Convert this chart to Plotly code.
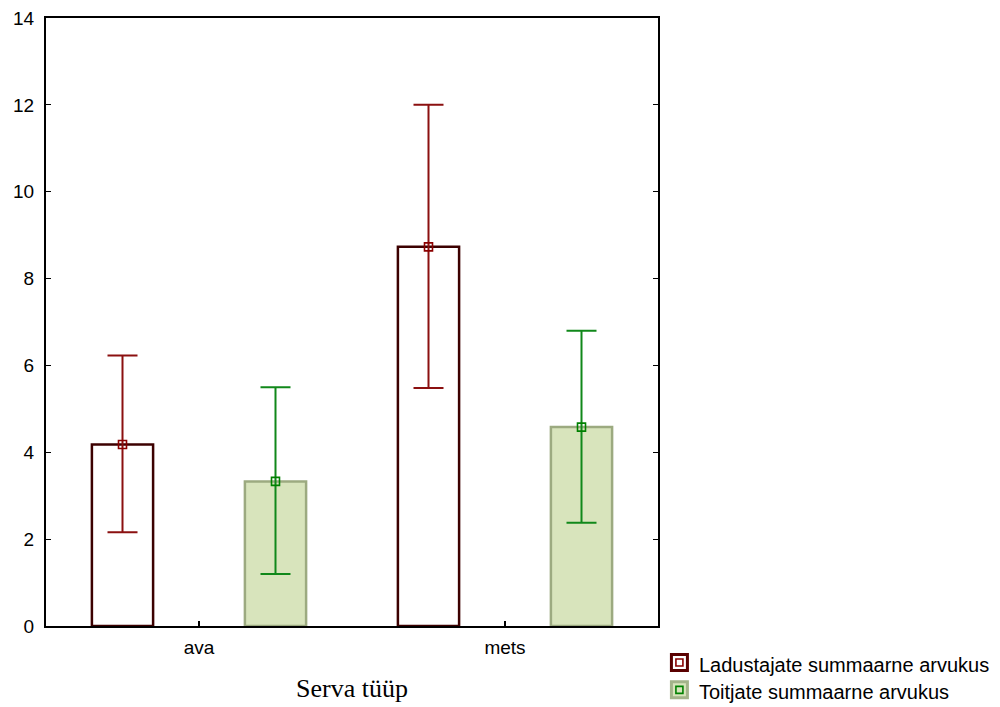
import plotly.graph_objects as go

# Site types and summary statistics per group
categories = ["ava", "mets"]
series_names = ["Ladustajate summaarne arvukus", "Toitjate summaarne arvukus"]
ladustajad_mean = [4.18, 8.73]
ladustajad_upper = [6.23, 12.0]
ladustajad_lower = [2.16, 5.48]
toitjad_mean = [3.33, 4.58]
toitjad_upper = [5.50, 6.80]
toitjad_lower = [1.20, 2.38]

y_ticks = [0, 2, 4, 6, 8, 10, 12, 14]

idx = list(range(len(categories)))
offset = 0.25
bar_width = 0.2

series = [
    dict(name=series_names[0], mean=ladustajad_mean, up=ladustajad_upper, lo=ladustajad_lower,
         shift=-offset, fill="#ffffff", edge="#3c0000", err="#8b1010", mk="#8b0000",
         key_edge="#5a0000"),
    dict(name=series_names[1], mean=toitjad_mean, up=toitjad_upper, lo=toitjad_lower,
         shift=offset, fill="#d8e4bc", edge="#9caa80", err="#10881a", mk="#008000",
         key_edge="#a3b38a"),
]

fig = go.Figure()
for s in series:
    xs = [i + s["shift"] for i in idx]
    fig.add_trace(go.Bar(
        x=xs, y=s["mean"], width=bar_width, name=s["name"],
        marker=dict(color=s["fill"], line=dict(color=s["edge"], width=2.5)),
        showlegend=False,
    ))
    fig.add_trace(go.Scatter(
        x=xs, y=s["mean"], mode="markers", showlegend=False, name=s["name"],
        marker=dict(symbol="square-open", size=8, color=s["mk"], line=dict(width=1.6, color=s["mk"])),
        error_y=dict(type="data", symmetric=False,
                     array=[u - m for u, m in zip(s["up"], s["mean"])],
                     arrayminus=[m - l for m, l in zip(s["mean"], s["lo"])],
                     color=s["err"], thickness=2, width=15),
    ))

# Legend key drawn below the right edge of the plot: outer box + inner marker square
key_x = 1.035            # paper x of key centres
key_y = [-0.06, -0.105]  # paper y of each row
for s, ky in zip(series, key_y):
    fig.add_shape(type="rect", xref="paper", yref="paper",
                  xsizemode="pixel", ysizemode="pixel", xanchor=key_x, yanchor=ky,
                  x0=-8, x1=8, y0=-8, y1=8,
                  line=dict(color=s["key_edge"], width=3), fillcolor=s["fill"])
    fig.add_shape(type="rect", xref="paper", yref="paper",
                  xsizemode="pixel", ysizemode="pixel", xanchor=key_x, yanchor=ky,
                  x0=-3.5, x1=3.5, y0=-3.5, y1=3.5,
                  line=dict(color=s["mk"], width=1.6), fillcolor="rgba(0,0,0,0)")
    fig.add_annotation(xref="paper", yref="paper", x=key_x + 0.028, y=ky - 0.004,
                       xanchor="left", yanchor="middle", showarrow=False, text=s["name"],
                       font=dict(family="Liberation Sans, Arial, sans-serif", size=20, color="black"))

fig.update_layout(
    width=1000, height=707,
    margin=dict(l=46, r=342, t=18, b=81, autoexpand=False),
    plot_bgcolor="white", paper_bgcolor="white",
    font=dict(family="Liberation Sans, Arial, sans-serif", size=19, color="black"),
    showlegend=False,
    xaxis=dict(
        range=[-0.5, 1.5], tickvals=idx, ticktext=categories,
        showgrid=False, zeroline=False, automargin=False,
        showline=True, linecolor="black", linewidth=2, mirror=True,
        ticks="inside", ticklen=5, tickcolor="black", tickwidth=2,
        ticklabelstandoff=3,
        title=dict(text="Serva tüüp", font=dict(family="Liberation Serif, Times New Roman, serif", size=26), standoff=22),
    ),
    yaxis=dict(
        range=[0, 14], tickvals=y_ticks,
        showgrid=False, zeroline=False, automargin=False,
        showline=True, linecolor="black", linewidth=2, mirror="ticks",
        ticks="inside", ticklen=5, tickcolor="black", tickwidth=1,
        ticklabelstandoff=6,
    ),
)

fig.write_html("out.html")
